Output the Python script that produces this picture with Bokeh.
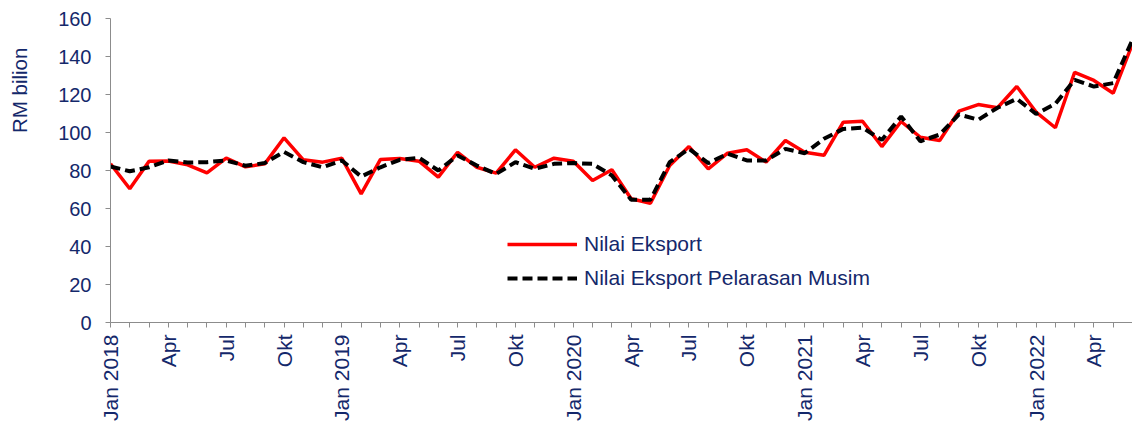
import math
from bokeh.plotting import figure
from bokeh.layouts import row
from bokeh.models import FixedTicker, Legend, LegendItem, ColumnDataSource
from bokeh.core.properties import value
from bokeh.embed import file_html
from bokeh.resources import INLINE

month_labels = [
    "Jan 2018", "", "", "Apr", "", "", "Jul", "", "", "Okt", "", "",
    "Jan 2019", "", "", "Apr", "", "", "Jul", "", "", "Okt", "", "",
    "Jan 2020", "", "", "Apr", "", "", "Jul", "", "", "Okt", "", "",
    "Jan 2021", "", "", "Apr", "", "", "Jul", "", "", "Okt", "", "",
    "Jan 2022", "", "", "Apr", "", "",
]

nilai_eksport = [
    83.5, 70.4, 84.9, 85.0, 83.0, 78.8, 86.5, 81.9, 83.5, 97.2, 85.6, 84.4,
    86.4, 67.7, 85.8, 86.3, 84.9, 76.5, 89.6, 81.7, 78.6, 90.9, 81.7, 86.5,
    84.9, 74.7, 80.4, 65.1, 62.8, 82.6, 92.6, 80.9, 89.1, 90.9, 84.4, 95.8,
    89.6, 88.0, 105.4, 105.9, 92.6, 105.8, 97.5, 95.8, 111.2, 114.7, 113.0, 124.2,
    110.7, 102.5, 131.7, 127.4, 120.7, 146.7,
]

nilai_pelarasan = [
    82.1, 79.6, 81.7, 85.3, 84.2, 84.4, 85.3, 82.5, 83.9, 89.8, 84.4, 81.7,
    85.3, 76.8, 81.7, 85.6, 86.7, 80.0, 87.9, 82.6, 78.2, 84.4, 80.9, 83.5,
    83.9, 83.5, 77.4, 64.6, 64.6, 84.4, 91.4, 83.9, 88.8, 85.3, 85.3, 91.4,
    89.1, 96.7, 101.9, 102.5, 96.1, 108.4, 95.4, 98.9, 109.5, 106.7, 113.0, 117.7,
    109.8, 115.1, 127.7, 124.2, 126.0, 148.8,
]

y_ticks = [0, 20, 40, 60, 80, 100, 120, 140, 160]
y_title = "RM bilion"

FONT = "Liberation Sans"
NAVY = "#14286B"
AXIS_GRAY = "#8C8C8C"

LABEL_W = 40
TOTAL_W = 1132
TOTAL_H = 423

# narrow strip holding the y-axis title
lab = figure(width=LABEL_W, height=TOTAL_H, output_backend="svg", toolbar_location=None,
             x_range=(0, LABEL_W), y_range=(0, TOTAL_H),
             x_axis_location=None, y_axis_location=None,
             min_border_left=0, min_border_right=0, min_border_top=0, min_border_bottom=0)
lab.outline_line_color = None
lab.xgrid.visible = False
lab.ygrid.visible = False
lab.text(x=[19], y=[TOTAL_H - 100], text=[y_title], angle=math.pi / 2,
         text_font=value(FONT), text_font_size="20.5px", text_color=NAVY,
         text_align="center", text_baseline="middle")

idx = list(range(len(month_labels)))
src = ColumnDataSource(dict(x=idx, red=nilai_eksport, blk=nilai_pelarasan))

p = figure(width=TOTAL_W - LABEL_W, height=TOTAL_H, output_backend="svg", toolbar_location=None,
           x_range=(0, len(month_labels) - 1), y_range=(0, 160),
           min_border_left=110 - LABEL_W, min_border_right=0, min_border_top=18,
           min_border_bottom=10)
p.outline_line_color = None
p.xgrid.visible = False
p.ygrid.visible = False
p.background_fill_color = "white"
p.border_fill_color = "white"

r1 = p.line("x", "red", source=src, line_color="#FF0000", line_width=3.5)
r2 = p.line("x", "blk", source=src, line_color="black", line_width=4, line_dash="10 5")

# x axis
p.xaxis.ticker = FixedTicker(ticks=idx)
p.xaxis.major_label_overrides = {i: t for i, t in enumerate(month_labels)}
p.xaxis.major_label_orientation = math.pi / 2
p.xaxis.axis_line_color = AXIS_GRAY
p.xaxis.major_tick_line_color = AXIS_GRAY
p.xaxis.major_tick_out = 5
p.xaxis.major_tick_in = 0
p.xaxis.minor_tick_line_color = None
p.xaxis.major_label_text_font = FONT
p.xaxis.major_label_text_font_size = "21px"
p.xaxis.major_label_text_color = NAVY
p.xaxis.major_label_standoff = 7

# y axis
p.yaxis.ticker = FixedTicker(ticks=y_ticks)
p.yaxis.axis_line_color = AXIS_GRAY
p.yaxis.major_tick_line_color = AXIS_GRAY
p.yaxis.major_tick_out = 5
p.yaxis.major_tick_in = 0
p.yaxis.minor_tick_line_color = None
p.yaxis.major_label_text_font = FONT
p.yaxis.major_label_text_font_size = "20px"
p.yaxis.major_label_text_color = NAVY
p.yaxis.major_label_standoff = 14

legend = Legend(items=[LegendItem(label="Nilai Eksport", renderers=[r1]),
                       LegendItem(label="Nilai Eksport Pelarasan Musim", renderers=[r2])],
                location=(397, 32), orientation="vertical")
legend.padding = 0
legend.margin = 0
legend.border_line_alpha = 0
legend.background_fill_alpha = 0
legend.glyph_width = 70
legend.glyph_height = 20
legend.label_height = 20
legend.label_standoff = 7
legend.spacing = 10
legend.label_text_font = FONT
legend.label_text_font_size = "21px"
legend.label_text_color = NAVY
p.add_layout(legend)

layout = row(lab, p, spacing=0)
open("out.html", "w").write(file_html(layout, INLINE))
